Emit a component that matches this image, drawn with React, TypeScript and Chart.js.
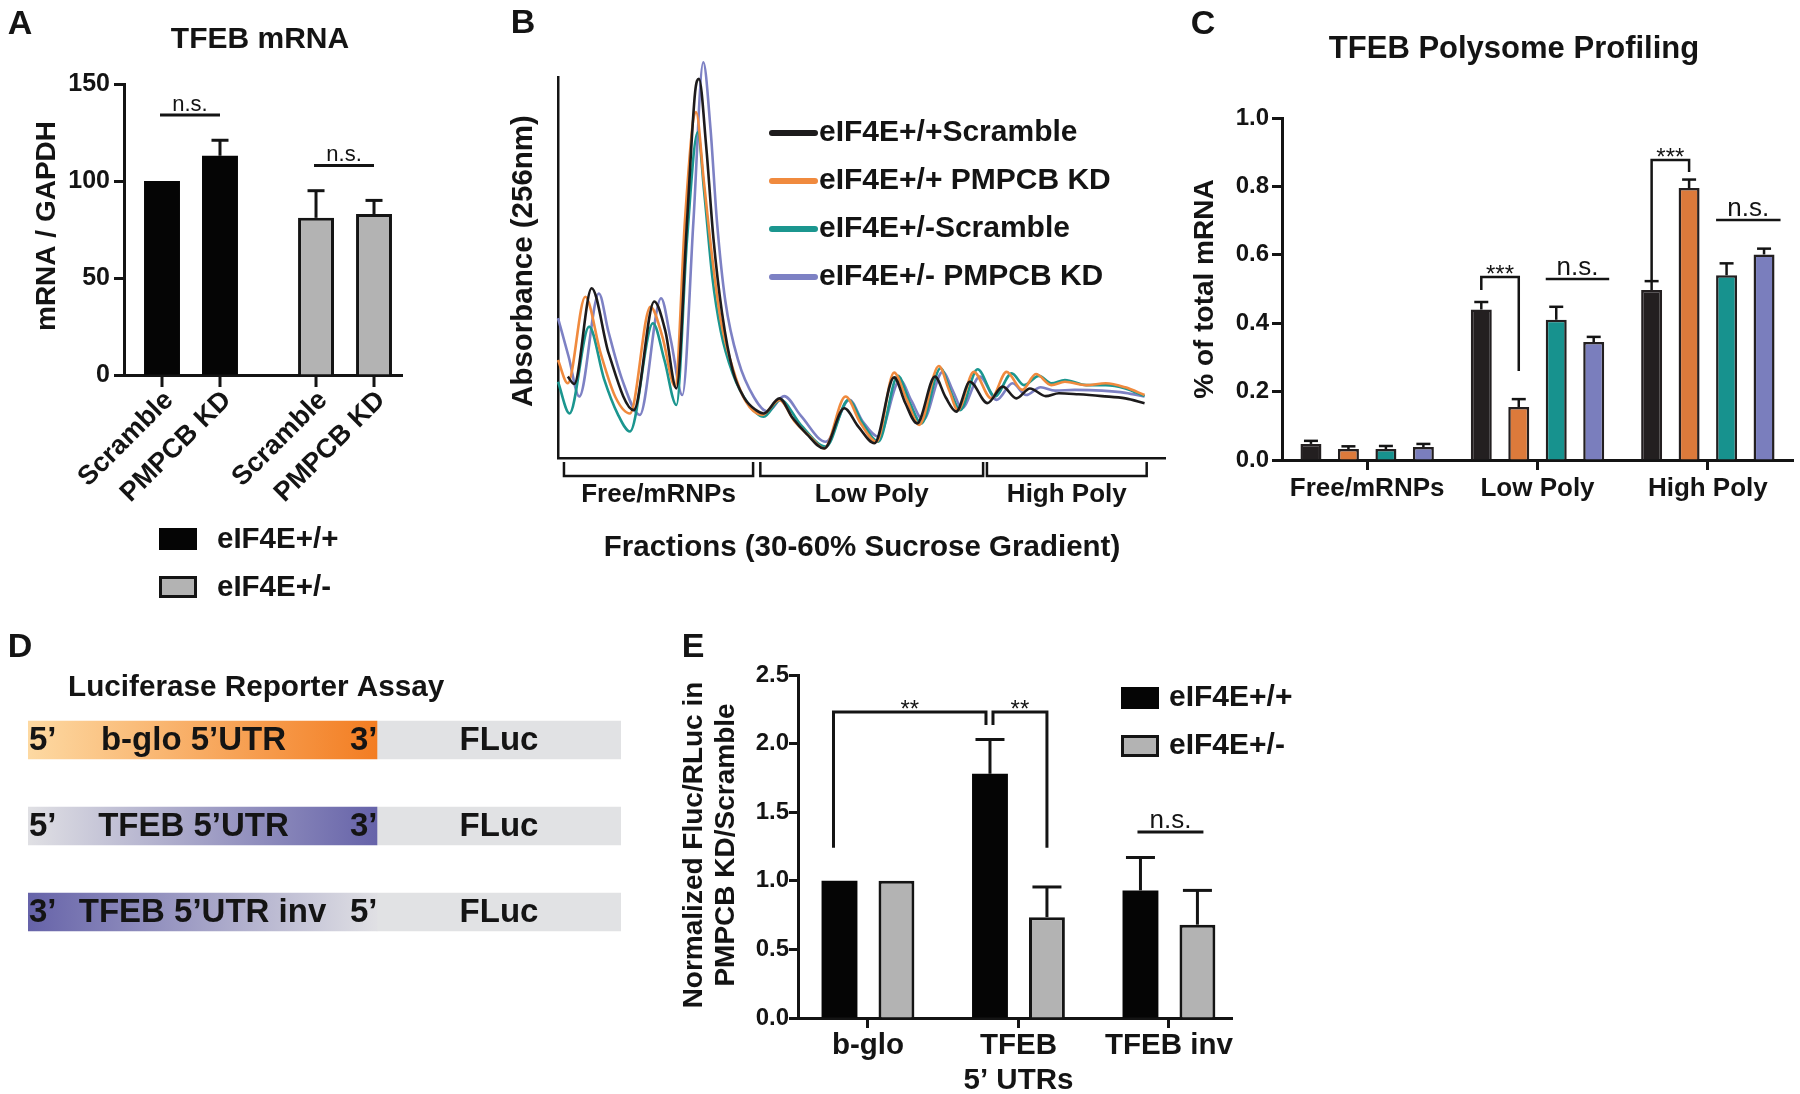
import React, { useEffect, useRef } from 'react';
import { Chart, registerables } from 'chart.js';

Chart.register(...registerables);

const FONT = '"Liberation Sans", Arial, Helvetica, sans-serif';
const INK = '#141414';
Chart.defaults.font.family = FONT;

// ---------------- Panel A : TFEB mRNA ----------------
const aGenotypes = ['eIF4E+/+', 'eIF4E+/-'];
const aConditions = ['Scramble', 'PMPCB KD'];
const aScrambleMean = [100, 81];
const aScrambleSem = [0, 14];
const aKdMean = [113, 83];
const aKdSem = [8, 7];
const aSigLabels = ['n.s.', 'n.s.'];
const aSigLevels = [134, 108];

// ---------------- Panel B : polysome traces ----------------
const bSeries = ['eIF4E+/+Scramble', 'eIF4E+/+ PMPCB KD', 'eIF4E+/-Scramble', 'eIF4E+/- PMPCB KD'];
const bWtScrambleX = [23, 38, 79, 119, 178, 226, 252, 278, 303, 322, 331, 348, 365, 385, 410, 438, 465, 483, 520, 550, 584, 625, 672, 705, 743, 789, 815, 843, 885, 910, 935, 967, 1008, 1044, 1076, 1108, 1145, 1176, 1222, 1277, 1332, 1377];
const bWtScrambleY = [221, 201, 461, 284, 130, 425, 345, 189, 645, 995, 1030, 845, 595, 395, 239, 162, 130, 121, 162, 110, 65, 26, 135, 85, 40, 219, 150, 94, 221, 165, 126, 207, 149, 194, 162, 189, 168, 176, 173, 168, 162, 149];
const bWtKdX = [0, 23, 64, 100, 135, 169, 217, 245, 275, 298, 317, 324, 343, 362, 382, 410, 440, 479, 520, 555, 590, 625, 675, 710, 748, 789, 818, 848, 894, 918, 939, 976, 1017, 1053, 1090, 1122, 1158, 1190, 1240, 1286, 1332, 1377];
const bWtKdY = [266, 203, 438, 285, 165, 121, 411, 330, 194, 645, 915, 940, 745, 545, 375, 245, 155, 117, 158, 100, 60, 26, 167, 95, 44, 232, 160, 90, 250, 185, 130, 234, 162, 234, 185, 228, 198, 207, 198, 203, 192, 171];
const bHetScrambleX = [0, 27, 73, 108, 140, 169, 223, 250, 278, 303, 328, 343, 362, 382, 410, 445, 483, 522, 570, 629, 682, 715, 752, 798, 826, 853, 898, 922, 944, 985, 1026, 1065, 1094, 1129, 1158, 1190, 1240, 1286, 1332, 1377];
const bHetScrambleY = [207, 121, 357, 215, 120, 72, 366, 265, 144, 595, 885, 725, 495, 345, 230, 150, 112, 158, 90, 31, 158, 95, 44, 223, 150, 94, 244, 180, 130, 241, 167, 230, 198, 223, 203, 212, 198, 198, 189, 168];
const bHetKdX = [0, 25, 50, 96, 118, 150, 192, 242, 265, 292, 318, 341, 358, 373, 393, 423, 460, 492, 531, 570, 629, 684, 715, 752, 803, 830, 857, 903, 928, 948, 990, 1030, 1067, 1099, 1133, 1167, 1213, 1277, 1332, 1377];
const bHetKdY = [380, 275, 167, 447, 345, 215, 117, 434, 320, 171, 645, 1075, 895, 645, 425, 265, 165, 126, 168, 115, 44, 158, 100, 58, 212, 155, 103, 234, 180, 135, 221, 158, 203, 171, 192, 183, 185, 183, 177, 167];
const bFractionGroups = ['Free/mRNPs', 'Low Poly', 'High Poly'];
const bGroupStart = [14, 475, 1007];
const bGroupEnd = [458, 998, 1382];

// ---------------- Panel C : polysome profiling ----------------
const cFractions = ['Free/mRNPs', 'Low Poly', 'High Poly'];
const cSeries = ['eIF4E+/+ Scramble', 'eIF4E+/+ PMPCB KD', 'eIF4E+/- Scramble', 'eIF4E+/- PMPCB KD'];
const cWtScramble = [0.047, 0.44, 0.497];
const cWtScrambleSem = [0.009, 0.022, 0.026];
const cWtKd = [0.032, 0.155, 0.795];
const cWtKdSem = [0.008, 0.023, 0.025];
const cHetScramble = [0.032, 0.41, 0.54];
const cHetScrambleSem = [0.009, 0.038, 0.035];
const cHetKd = [0.038, 0.345, 0.601];
const cHetKdSem = [0.009, 0.015, 0.017];
const cLowStars = [0.535, 0.497, 0.26];
const cLowNs = 0.529;
const cHighStars = [0.877, 0.526, 0.842];
const cHighNs = 0.702;

// ---------------- Panel D : constructs ----------------
const dConstructs = ['b-glo 5’UTR', 'TFEB 5’UTR', 'TFEB 5’UTR inv'];
const dLeftEnd = ['5’', '5’', '3’'];
const dRightEnd = ['3’', '3’', '5’'];
const dUtrLength = [1.43, 1.43, 1.43];
const dFlucLength = [1, 1, 1];
const dReporter = 'FLuc';

// ---------------- Panel E : luciferase ----------------
const eReporters = ['b-glo', ['TFEB', '5’ UTRs'], 'TFEB inv'];
const eGenotypes = ['eIF4E+/+', 'eIF4E+/-'];
const eWt = [1.0, 1.78, 0.93];
const eWtSem = [0, 0.25, 0.24];
const eHet = [1.0, 0.735, 0.68];
const eHetSem = [0, 0.22, 0.25];
const eStarTop = 2.23;
const eStarShort = 2.135;
const eStarLong = 1.24;
const eNsLevel = 1.356;

// ---------------- styles ----------------
const GENO_FILL = ['#050505', '#b3b3b3'];
const B_COLORS = ['#1d1b1c', '#f08a3e', '#1b968f', '#7d81c4'];
const C_COLORS = ['#231f20', '#dc7a3b', '#17928e', '#7a7ebd'];
const D_FROM = ['#fdd9a2', '#e0e0e4', '#6663a9'];
const D_TO = ['#f37d22', '#6663a9', '#e0e0e4'];
const D_FLUC = '#e1e2e4';

type TOpt = { align?: CanvasTextAlign; baseline?: CanvasTextBaseline; weight?: string; color?: string; rotate?: number };
function drawText(ctx: CanvasRenderingContext2D, s: string, x: number, y: number, size: number, o: TOpt = {}) {
  ctx.save();
  ctx.translate(x, y);
  if (o.rotate) ctx.rotate(o.rotate);
  ctx.font = `${o.weight ?? 'bold'} ${size}px ${FONT}`;
  ctx.fillStyle = o.color ?? INK;
  ctx.textAlign = o.align ?? 'center';
  ctx.textBaseline = o.baseline ?? 'middle';
  ctx.fillText(s, 0, 0);
  ctx.restore();
}
function strokePath(ctx: CanvasRenderingContext2D, pts: number[][], lw: number, color = INK) {
  ctx.save();
  ctx.beginPath();
  ctx.lineWidth = lw;
  ctx.strokeStyle = color;
  ctx.lineCap = 'butt';
  ctx.lineJoin = 'miter';
  pts.forEach(([x, y], i) => (i ? ctx.lineTo(x, y) : ctx.moveTo(x, y)));
  ctx.stroke();
  ctx.restore();
}
function drawErrorBars(chart: any, means: number[][], sems: number[][], capW: number, lw: number) {
  const ys = chart.scales.y;
  means.forEach((m, di) => {
    const meta = chart.getDatasetMeta(di);
    m.forEach((v, i) => {
      const s = sems[di][i];
      if (!s) return;
      const x = meta.data[i].x;
      const y0 = ys.getPixelForValue(v);
      const y1 = ys.getPixelForValue(v + s);
      strokePath(chart.ctx, [[x, y0], [x, y1]], lw);
      strokePath(chart.ctx, [[x - capW / 2, y1], [x + capW / 2, y1]], lw);
    });
  });
}
const barX = (chart: any, di: number, i: number) => chart.getDatasetMeta(di).data[i].x;
const barHalf = (chart: any, di: number, i: number) => chart.getDatasetMeta(di).data[i].width / 2;
const noPlugins = { legend: { display: false }, tooltip: { enabled: false }, title: { display: false } };

// ---------------- builders ----------------
function buildA() {
  const ds = (label: string, vals: number[]) => ({
    label,
    data: vals.map((y, i) => ({ x: i, y })),
    backgroundColor: (c: any) => GENO_FILL[c.dataIndex],
    borderColor: INK,
    borderWidth: (c: any) => (c.dataIndex === 1 ? 3 : 0),
  });
  return {
    type: 'bar',
    data: { datasets: [ds(aConditions[0], aScrambleMean), ds(aConditions[1], aKdMean)] },
    options: {
      responsive: false,
      animation: false,
      devicePixelRatio: 1,
      layout: { padding: { left: 0, top: 84, right: 48, bottom: 244 } },
      plugins: noPlugins,
      datasets: { bar: { categoryPercentage: 0.753, barPercentage: 0.62 } },
      scales: {
        x: {
          type: 'linear', min: -0.435, max: 1.37, offset: false,
          afterBuildTicks: (s: any) => { s.ticks = aGenotypes.map((_, i) => ({ value: i })); },
          ticks: { display: false },
          grid: { display: false, offset: false },
          border: { width: 3, color: INK },
          afterFit: (s: any) => { s.height = 1; },
        },
        y: {
          min: 0, max: 150,
          ticks: { stepSize: 50, color: INK, padding: 4, font: { family: FONT, size: 25, weight: 'bold' } },
          grid: { drawOnChartArea: false, tickLength: 10, tickWidth: 3, tickColor: INK },
          border: { width: 3, color: INK },
          afterFit: (s: any) => { s.width = 124; },
        },
      },
    },
    plugins: [{
      id: 'aDecor',
      afterDraw(chart: any) {
        const ctx = chart.ctx;
        const area = chart.chartArea;
        const ys = chart.scales.y;
        drawErrorBars(chart, [aScrambleMean, aKdMean], [aScrambleSem, aKdSem], 17, 3);
        aConditions.forEach((cond, di) => {
          aGenotypes.forEach((_, i) => {
            const x = barX(chart, di, i);
            strokePath(ctx, [[x, area.bottom], [x, area.bottom + 12]], 3);
            drawText(ctx, cond, x + 7, area.bottom + 21, 27, { align: 'right', rotate: -Math.PI / 4 });
          });
        });
        aGenotypes.forEach((_, i) => {
          const x0 = barX(chart, 0, i) - 2;
          const x1 = barX(chart, 1, i);
          const y = ys.getPixelForValue(aSigLevels[i]);
          strokePath(ctx, [[x0, y], [x1, y]], 3);
          drawText(ctx, aSigLabels[i], (x0 + x1) / 2, y - 4, 22, { weight: 'normal', baseline: 'alphabetic' });
        });
        drawText(ctx, 'A', 20, 25, 34);
        drawText(ctx, 'TFEB mRNA', 260, 40, 30);
        drawText(ctx, 'mRNA / GAPDH', 47, 226, 28, { rotate: -Math.PI / 2 });
        aGenotypes.forEach((g, i) => {
          const y = 528 + i * 48;
          ctx.save();
          ctx.fillStyle = GENO_FILL[i];
          ctx.fillRect(159, y, 38, 22);
          if (i === 1) { ctx.strokeStyle = INK; ctx.lineWidth = 3; ctx.strokeRect(160.5, y + 1.5, 35, 19); }
          ctx.restore();
          drawText(ctx, g, 217, y + 12, 29.5, { align: 'left' });
        });
      },
    }],
  };
}

function buildB() {
  const OX = 480;
  const xs = [bWtScrambleX, bWtKdX, bHetScrambleX, bHetKdX];
  const ysr = [bWtScrambleY, bWtKdY, bHetScrambleY, bHetKdY];
  return {
    type: 'line',
    data: {
      datasets: bSeries.map((name, k) => ({
        label: name,
        data: xs[k].map((x, i) => ({ x, y: ysr[k][i] })),
        borderColor: B_COLORS[k],
        borderWidth: 2.6,
        pointRadius: 0,
        fill: false,
        cubicInterpolationMode: 'monotone',
        clip: false,
      })),
    },
    options: {
      responsive: false,
      animation: false,
      devicePixelRatio: 1,
      layout: { padding: { left: 0, top: 77, right: 15, bottom: 141 } },
      plugins: noPlugins,
      scales: {
        x: {
          type: 'linear', min: 0, max: 1425,
          ticks: { display: false }, grid: { display: false },
          border: { width: 2.5, color: INK },
          afterFit: (s: any) => { s.height = 1; },
        },
        y: {
          type: 'linear', min: 0, max: 1035,
          ticks: { display: false }, grid: { display: false },
          border: { width: 2.5, color: INK },
          afterFit: (s: any) => { s.width = 78; },
        },
      },
    },
    plugins: [{
      id: 'bDecor',
      afterDraw(chart: any) {
        const ctx = chart.ctx;
        const xsc = chart.scales.x;
        bFractionGroups.forEach((g, i) => {
          const x0 = xsc.getPixelForValue(bGroupStart[i]);
          const x1 = xsc.getPixelForValue(bGroupEnd[i]);
          strokePath(ctx, [[x0, 462], [x0, 476], [x1, 476], [x1, 462]], 2.5);
          drawText(ctx, g, (x0 + x1) / 2, 495, 26);
        });
        ctx.save();
        ctx.translate(-OX, 0);
        bSeries.forEach((name, i) => {
          const y = 133 + i * 48;
          ctx.save();
          ctx.strokeStyle = B_COLORS[i];
          ctx.lineWidth = 6;
          ctx.lineCap = 'round';
          ctx.beginPath();
          ctx.moveTo(772, y);
          ctx.lineTo(815, y);
          ctx.stroke();
          ctx.restore();
          drawText(ctx, name, 819, y, 30, { align: 'left' });
        });
        drawText(ctx, 'B', 523, 24, 34);
        drawText(ctx, 'Absorbance (256nm)', 524, 261, 29.5, { rotate: -Math.PI / 2 });
        drawText(ctx, 'Fractions (30-60% Sucrose Gradient)', 862, 548, 29.5);
        ctx.restore();
      },
    }],
  };
}

function buildC() {
  const OX = 1180;
  const means = [cWtScramble, cWtKd, cHetScramble, cHetKd];
  const sems = [cWtScrambleSem, cWtKdSem, cHetScrambleSem, cHetKdSem];
  return {
    type: 'bar',
    data: {
      labels: cFractions,
      datasets: cSeries.map((name, k) => ({
        label: name,
        data: means[k],
        backgroundColor: C_COLORS[k],
        borderColor: '#231f20',
        borderWidth: 2.5,
      })),
    },
    options: {
      responsive: false,
      animation: false,
      devicePixelRatio: 1,
      layout: { padding: { left: 0, top: 118, right: 7, bottom: 0 } },
      plugins: noPlugins,
      datasets: { bar: { categoryPercentage: 0.88, barPercentage: 0.56 } },
      scales: {
        x: {
          ticks: { color: INK, padding: 3, font: { family: FONT, size: 26, weight: 'bold' } },
          grid: { drawOnChartArea: false, offset: false, tickLength: 10, tickWidth: 3, tickColor: INK },
          border: { width: 3, color: INK },
          afterFit: (s: any) => { s.height = 60; },
        },
        y: {
          min: 0, max: 1.0,
          ticks: { stepSize: 0.2, color: INK, padding: 3, font: { family: FONT, size: 24, weight: 'bold' }, callback: (v: any) => Number(v).toFixed(1) },
          grid: { drawOnChartArea: false, tickLength: 10, tickWidth: 3, tickColor: INK },
          border: { width: 3, color: INK },
          afterFit: (s: any) => { s.width = 102; },
        },
      },
    },
    plugins: [{
      id: 'cDecor',
      afterDraw(chart: any) {
        const ctx = chart.ctx;
        const ys = chart.scales.y;
        drawErrorBars(chart, means, sems, 14, 2.5);
        {
          const x0 = barX(chart, 0, 1), x1 = barX(chart, 1, 1);
          const top = ys.getPixelForValue(cLowStars[0]);
          strokePath(ctx, [[x0, ys.getPixelForValue(cLowStars[1])], [x0, top], [x1, top], [x1, ys.getPixelForValue(cLowStars[2])]], 2.5);
          drawText(ctx, '***', (x0 + x1) / 2, top + 5, 24, { weight: 'normal', baseline: 'alphabetic' });
        }
        {
          const x0 = barX(chart, 2, 1) - barHalf(chart, 2, 1), x1 = barX(chart, 3, 1) + barHalf(chart, 3, 1) + 5;
          const y = ys.getPixelForValue(cLowNs);
          strokePath(ctx, [[x0, y], [x1, y]], 2.5);
          drawText(ctx, 'n.s.', (x0 + x1) / 2, y - 4, 26, { weight: 'normal', baseline: 'alphabetic' });
        }
        {
          const x0 = barX(chart, 0, 2), x1 = barX(chart, 1, 2);
          const top = ys.getPixelForValue(cHighStars[0]);
          strokePath(ctx, [[x0, ys.getPixelForValue(cHighStars[1])], [x0, top], [x1, top], [x1, ys.getPixelForValue(cHighStars[2])]], 2.5);
          drawText(ctx, '***', (x0 + x1) / 2, top + 5, 24, { weight: 'normal', baseline: 'alphabetic' });
        }
        {
          const x0 = barX(chart, 2, 2) - barHalf(chart, 2, 2), x1 = barX(chart, 3, 2) + barHalf(chart, 3, 2) + 6;
          const y = ys.getPixelForValue(cHighNs);
          strokePath(ctx, [[x0, y], [x1, y]], 2.5);
          drawText(ctx, 'n.s.', (x0 + x1) / 2, y - 4, 26, { weight: 'normal', baseline: 'alphabetic' });
        }
        ctx.save();
        ctx.translate(-OX, 0);
        drawText(ctx, 'C', 1203, 25, 34);
        drawText(ctx, 'TFEB Polysome Profiling', 1514, 49, 31);
        drawText(ctx, '% of total mRNA', 1205, 289, 28, { rotate: -Math.PI / 2 });
        ctx.restore();
      },
    }],
  };
}

function buildD() {
  const OY = 630;
  const gradient = (c: any) => {
    const i = c.dataIndex;
    const chart = c.chart;
    if (!chart.chartArea || !chart.scales.x) return D_FROM[i];
    const xs = chart.scales.x;
    const g = chart.ctx.createLinearGradient(xs.getPixelForValue(0), 0, xs.getPixelForValue(dUtrLength[i]), 0);
    g.addColorStop(0, D_FROM[i]);
    g.addColorStop(1, D_TO[i]);
    return g;
  };
  return {
    type: 'bar',
    data: {
      labels: dConstructs,
      datasets: [
        { label: '5’UTR', data: dUtrLength, backgroundColor: gradient, borderWidth: 0 },
        { label: dReporter, data: dFlucLength, backgroundColor: D_FLUC, borderWidth: 0 },
      ],
    },
    options: {
      indexAxis: 'y',
      responsive: false,
      animation: false,
      devicePixelRatio: 1,
      layout: { padding: { left: 28, top: 67, right: 39, bottom: 15 } },
      plugins: noPlugins,
      datasets: { bar: { barThickness: 38 } },
      scales: {
        x: { stacked: true, min: 0, max: 2.43, display: false },
        y: { stacked: true, display: false },
      },
    },
    plugins: [{
      id: 'dDecor',
      afterDraw(chart: any) {
        const ctx = chart.ctx;
        const xs = chart.scales.x;
        const meta = chart.getDatasetMeta(0);
        dConstructs.forEach((name, i) => {
          const y = meta.data[i].y + 1;
          const x0 = xs.getPixelForValue(0);
          const x1 = xs.getPixelForValue(dUtrLength[i]);
          const x2 = xs.getPixelForValue(dUtrLength[i] + dFlucLength[i]);
          drawText(ctx, dLeftEnd[i], x0 + 1, y, 33, { align: 'left' });
          drawText(ctx, dRightEnd[i], x1 - 27, y, 33, { align: 'left' });
          drawText(ctx, name, (x0 + x1) / 2 - (i === 2 ? 0 : 9), y, 33);
          drawText(ctx, dReporter, (x1 + x2) / 2, y, 33);
        });
        ctx.save();
        ctx.translate(0, -OY);
        drawText(ctx, 'D', 20, 648, 34);
        drawText(ctx, 'Luciferase Reporter Assay', 68, 688, 29.7, { align: 'left' });
        ctx.restore();
      },
    }],
  };
}

function buildE() {
  const OX = 670, OY = 630;
  return {
    type: 'bar',
    data: {
      datasets: [
        { label: eGenotypes[0], data: eWt.map((y, i) => ({ x: i, y })), backgroundColor: GENO_FILL[0], borderWidth: 0 },
        { label: eGenotypes[1], data: eHet.map((y, i) => ({ x: i, y })), backgroundColor: GENO_FILL[1], borderColor: INK, borderWidth: 3 },
      ],
    },
    options: {
      responsive: false,
      animation: false,
      devicePixelRatio: 1,
      layout: { padding: { left: 0, top: 45, right: 98, bottom: 0 } },
      plugins: noPlugins,
      datasets: { bar: { categoryPercentage: 0.757, barPercentage: 0.63 } },
      scales: {
        x: {
          type: 'linear', min: -0.465, max: 2.419, offset: false,
          afterBuildTicks: (s: any) => { s.ticks = eReporters.map((_, i) => ({ value: i })); },
          ticks: { color: INK, padding: 0, maxRotation: 0, autoSkip: false, font: { family: FONT, size: 29.5, weight: 'bold' }, callback: (v: any) => eReporters[Math.round(Number(v))] },
          grid: { drawOnChartArea: false, offset: false, tickLength: 10, tickWidth: 3, tickColor: INK },
          border: { width: 3, color: INK },
          afterFit: (s: any) => { s.height = 76; },
        },
        y: {
          min: 0, max: 2.5,
          ticks: { stepSize: 0.5, color: INK, padding: 0, font: { family: FONT, size: 24, weight: 'bold' }, callback: (v: any) => Number(v).toFixed(1) },
          grid: { drawOnChartArea: false, tickLength: 9, tickWidth: 3, tickColor: INK },
          border: { width: 3, color: INK },
          afterFit: (s: any) => { s.width = 128; },
        },
      },
    },
    plugins: [{
      id: 'eDecor',
      afterDraw(chart: any) {
        const ctx = chart.ctx;
        const ys = chart.scales.y;
        drawErrorBars(chart, [eWt, eHet], [eWtSem, eHetSem], 29, 3);
        const top = ys.getPixelForValue(eStarTop);
        const short = ys.getPixelForValue(eStarShort);
        const long = ys.getPixelForValue(eStarLong);
        {
          const x0 = barX(chart, 0, 0) - 6, x1 = barX(chart, 0, 1) - 4;
          strokePath(ctx, [[x0, long], [x0, top], [x1, top], [x1, short]], 3);
          drawText(ctx, '**', (x0 + x1) / 2, top + 5, 24, { weight: 'normal', baseline: 'alphabetic' });
        }
        {
          const x0 = barX(chart, 0, 1) + 3, x1 = barX(chart, 1, 1);
          strokePath(ctx, [[x0, short], [x0, top], [x1, top], [x1, long]], 3);
          drawText(ctx, '**', (x0 + x1) / 2, top + 5, 24, { weight: 'normal', baseline: 'alphabetic' });
        }
        {
          const x0 = barX(chart, 0, 2) - 3, x1 = barX(chart, 1, 2) + 6;
          const y = ys.getPixelForValue(eNsLevel);
          strokePath(ctx, [[x0, y], [x1, y]], 3);
          drawText(ctx, 'n.s.', (x0 + x1) / 2, y - 4, 26, { weight: 'normal', baseline: 'alphabetic' });
        }
        ctx.save();
        ctx.translate(-OX, -OY);
        drawText(ctx, 'E', 693, 648, 34);
        drawText(ctx, 'Normalized Fluc/RLuc in', 694, 845, 28, { rotate: -Math.PI / 2 });
        drawText(ctx, 'PMPCB KD/Scramble', 726, 845, 28, { rotate: -Math.PI / 2 });
        eGenotypes.forEach((g, i) => {
          const y = 687 + i * 48;
          ctx.save();
          ctx.fillStyle = GENO_FILL[i];
          ctx.fillRect(1121, y, 38, 22);
          if (i === 1) { ctx.strokeStyle = INK; ctx.lineWidth = 3; ctx.strokeRect(1122.5, y + 1.5, 35, 19); }
          ctx.restore();
          drawText(ctx, g, 1169, y + 11, 30, { align: 'left' });
        });
        ctx.restore();
      },
    }],
  };
}

function ChartCanvas({ left, top, width, height, build }: { left: number; top: number; width: number; height: number; build: () => any }) {
  const ref = useRef<HTMLCanvasElement | null>(null);
  useEffect(() => {
    const chart = new Chart(ref.current as HTMLCanvasElement, build());
    return () => chart.destroy();
  }, [build]);
  return <canvas ref={ref} width={width} height={height} style={{ position: 'absolute', left, top, width, height }} />;
}

export default function App() {
  return (
    <div style={{ position: 'absolute', left: 0, top: 0, width: 1800, height: 1094, background: '#ffffff', overflow: 'hidden' }}>
      <ChartCanvas left={0} top={0} width={450} height={620} build={buildA} />
      <ChartCanvas left={480} top={0} width={700} height={600} build={buildB} />
      <ChartCanvas left={1180} top={0} width={620} height={520} build={buildC} />
      <ChartCanvas left={0} top={630} width={660} height={340} build={buildD} />
      <ChartCanvas left={670} top={630} width={660} height={464} build={buildE} />
    </div>
  );
}
